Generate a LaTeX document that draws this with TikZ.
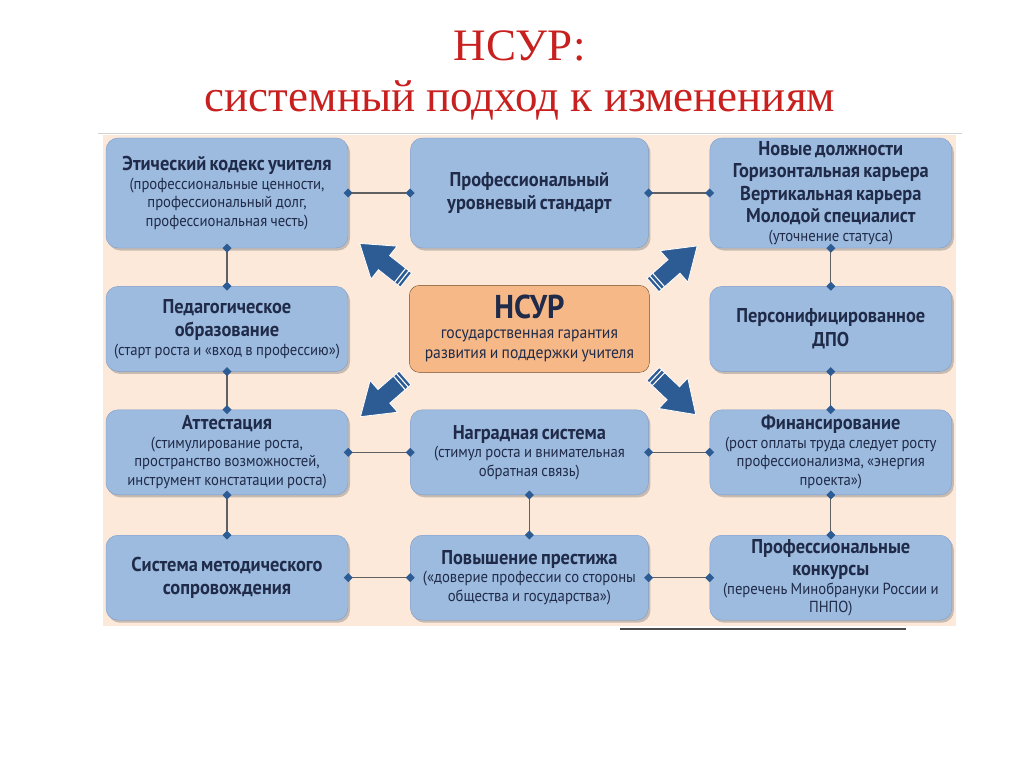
\documentclass[tikz,border=0pt]{standalone}
\usepackage{fontspec}
\setmainfont{Liberation Serif}
\newfontfamily\boxfont[FakeStretch=0.92]{PT Sans}
\usetikzlibrary{positioning,shadows,arrows.meta}

\definecolor{boxblue}{HTML}{9DBADF}
\definecolor{boxedge}{HTML}{7F9DC9}
\definecolor{navy}{HTML}{1F2B48}
\definecolor{peach}{HTML}{FCE9DA}
\definecolor{orng}{HTML}{F7B888}
\definecolor{arrblue}{HTML}{2D5C94}
\definecolor{titlered}{HTML}{C8201E}

\newcommand{\bxhead}[1]{\fontsize{20}{23.5}\selectfont\bfseries #1\par}
\newcommand{\bxnote}[1]{\fontsize{16}{18.5}\selectfont\mdseries #1\par}

\tikzset{
  box/.style={draw=boxedge, fill=boxblue, rounded corners=12pt, text=navy,
    align=center, font=\boxfont, minimum width=242pt, text width=234pt,
    minimum height=85pt, inner xsep=4pt, inner ysep=0pt,
    drop shadow={shadow xshift=2pt, shadow yshift=-2.5pt, opacity=0.35, fill=black!60}},
  core/.style={draw=brown!60!black, fill=orng, rounded corners=10pt, text=navy,
    align=center, font=\boxfont, minimum width=240pt, text width=232pt,
    minimum height=87pt, inner xsep=4pt, inner ysep=0pt},
  link/.style={draw=gray!75!black, line width=1.1pt,
    arrows={Diamond[length=9pt,width=9pt,color=arrblue]-Diamond[length=9pt,width=9pt,color=arrblue]},
    shorten <=-4.5pt, shorten >=-4.5pt},
  bigarrow/.pic={
    \fill[arrblue, draw=white, line width=0.8pt] (0,-9) -- (28,-9) -- (28,-21)
      -- (59,0) -- (28,21) -- (28,9) -- (0,9) -- cycle;
    \draw[white, line width=1.1pt] (3.5,-9) -- (3.5,9) (7.5,-9) -- (7.5,9);
  }
}

\begin{document}
\begin{tikzpicture}[x=1pt, y=-1pt]
  \useasboundingbox (0,0) rectangle (1024,767);
  % Title
  \node[text=titlered, font=\fontsize{45}{52}\selectfont] (ttl) at (520,46) {НСУР:};
  \node[text=titlered, font=\fontsize{45}{52}\selectfont] (sub) at (520,100) {системный подход к изменениям};
  % Panel
  \fill[peach] (103,135) rectangle (956,626);
  \draw[gray!35, line width=1pt] (98,134) -- (962,134);
  \draw[black!70, line width=1.2pt] (620,629) -- (906,629);
  % Define nodes
  \node[box, minimum height=110pt] (a1) at (227,193)
    {\bxhead{Этический кодекс учителя}\bxnote{(профессиональные ценности,\\ профессиональный долг,\\ профессиональная честь)}};
  \node[box, below=38pt of a1] (a2)
    {\bxhead{Педагогическое\\ образование}\bxnote{(старт роста и «вход в профессию»)}};
  \node[box, below=38pt of a2] (a3)
    {\bxhead{Аттестация}\bxnote{(стимулирование роста,\\ пространство возможностей,\\ инструмент констатации роста)}};
  \node[box, below=40pt of a3] (a4)
    {\bxhead{Система методического\\ сопровождения}};
  \node[box, minimum height=110pt, minimum width=238pt, text width=230pt, right=62pt of a1] (b1)
    {\bxhead{Профессиональный\\ уровневый стандарт}};
  \node[core, below=37pt of b1] (core)
    {\fontsize{33}{34}\selectfont\bfseries НСУР\par
     \fontsize{17}{20}\selectfont\mdseries государственная гарантия\\ развития и поддержки учителя\par};
  \node[box, minimum width=238pt, text width=230pt, right=62pt of a3] (b3)
    {\bxhead{Наградная система}\bxnote{(стимул роста и внимательная\\ обратная связь)}};
  \node[box, minimum width=238pt, text width=230pt, right=62pt of a4] (b4)
    {\bxhead{Повышение престижа}\bxnote{(«доверие профессии со стороны\\ общества и государства»)}};
  \node[box, minimum height=110pt, right=61pt of b1] (c1)
    {\fontsize{20}{22.5}\selectfont\bfseries Новые должности\\ Горизонтальная карьера\\ Вертикальная карьера\\ Молодой специалист\par
     \bxnote{(уточнение статуса)}};
  \node[box, below=38pt of c1] (c2)
    {\bxhead{Персонифицированное\\ ДПО}};
  \node[box, below=38pt of c2] (c3)
    {\bxhead{Финансирование}\bxnote{(рост оплаты труда следует росту\\ профессионализма, «энергия\\ проекта»)}};
  \node[box, below=40pt of c3] (c4)
    {\fontsize{20}{22.5}\selectfont\bfseries Профессиональные\\ конкурсы\par
     \bxnote{(перечень Минобрануки России и\\ ПНПО)}};
  % Connect nodes
  \draw[link] (a1) -- (a2);
  \draw[link] (a2) -- (a3);
  \draw[link] (a3) -- (a4);
  \draw[link] (c1) -- (c2);
  \draw[link] (c2) -- (c3);
  \draw[link] (c3) -- (c4);
  \draw[link] (b3) -- (b4);
  \draw[link] (a1) -- (b1);
  \draw[link] (b1) -- (c1);
  \draw[link] (a3) -- (b3);
  \draw[link] (b3) -- (c3);
  \draw[link] (a4) -- (b4);
  \draw[link] (b4) -- (c4);
  % Arrows
  \pic[rotate=141.7] at (406,280) {bigarrow};
  \pic[rotate=41.5] at (653,285) {bigarrow};
  \pic[rotate=221] at (405,378) {bigarrow};
  \pic[rotate=-43.5] at (653,374) {bigarrow};
\end{tikzpicture}
\end{document}
